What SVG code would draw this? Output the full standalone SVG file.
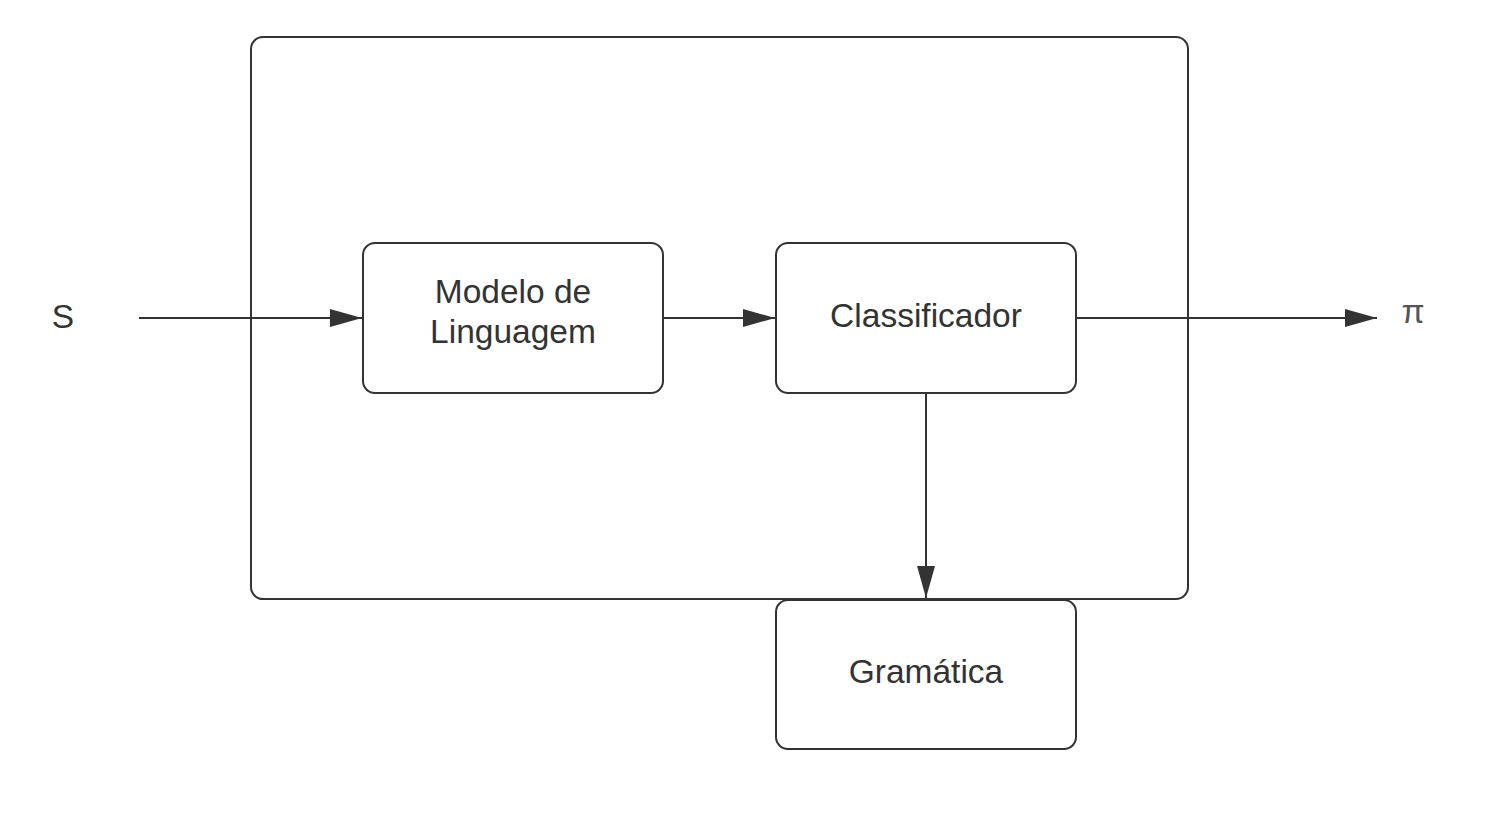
<svg xmlns="http://www.w3.org/2000/svg" width="1489" height="821" viewBox="0 0 1489 821">
<style>
.box{fill:#fff;stroke:#333;stroke-width:2}
.lbl{font-family:"Liberation Sans",Arial,sans-serif;font-size:33.5px;fill:#333;text-anchor:middle}
.con{stroke:#333;stroke-width:2;fill:none}
</style>
<defs>
<marker id="ah" viewBox="0 0 32 20" refX="32" refY="10" markerWidth="32" markerHeight="20" markerUnits="userSpaceOnUse" orient="auto">
<path d="M0,1 L32,10 L0,19 Z" fill="#333"/>
</marker>
</defs>
<rect width="1489" height="821" fill="#fff"/>
<g id="container"><rect class="box" x="251" y="37" width="937" height="562" rx="12"/></g>
<g id="modelo"><rect class="box" x="363" y="243" width="300" height="150" rx="12"/>
<text class="lbl" x="513" y="303">Modelo de</text><text class="lbl" x="513" y="343">Linguagem</text></g>
<g id="classificador"><rect class="box" x="776" y="243" width="300" height="150" rx="12"/>
<text class="lbl" x="926" y="327">Classificador</text></g>
<g id="gramatica"><rect class="box" x="776" y="600" width="300" height="149" rx="12"/>
<text class="lbl" x="926" y="683">Gramática</text></g>
<g id="input"><text class="lbl" x="63" y="328">S</text></g>
<g id="output"><text class="lbl" x="1413" y="323" style="fill:#555">π</text></g>
<g id="connectors">
<line class="con" x1="139" y1="318" x2="362" y2="318" marker-end="url(#ah)"/>
<line class="con" x1="663" y1="318" x2="775" y2="318" marker-end="url(#ah)"/>
<line class="con" x1="1076" y1="318" x2="1377" y2="318" marker-end="url(#ah)"/>
<line class="con" x1="926" y1="393" x2="926" y2="598" marker-end="url(#ah)"/>
</g>
</svg>
